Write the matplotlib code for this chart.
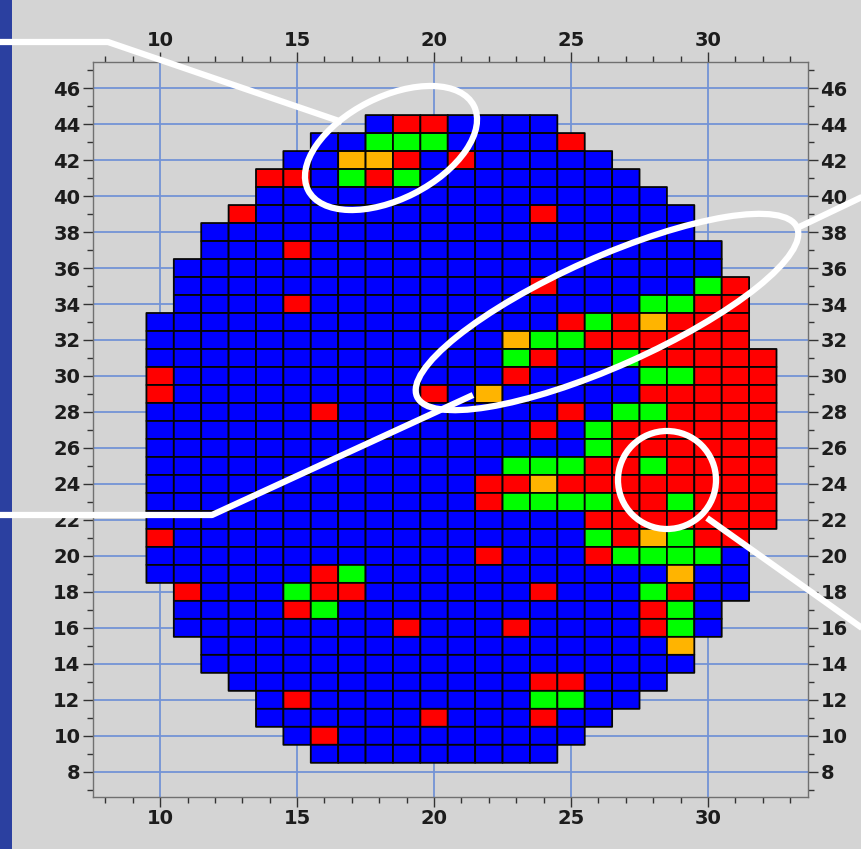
import numpy as np
import matplotlib
matplotlib.use("Agg")
import matplotlib.pyplot as plt
from matplotlib.colors import ListedColormap, BoundaryNorm
from matplotlib.patches import Ellipse, Circle, Rectangle
from matplotlib.ticker import MultipleLocator

# wafer rows (top to bottom) and first/last die column in each row
rows = list(range(44, 8, -1))
left_edge = [18, 16, 15, 14, 14, 13, 12, 12, 11, 11, 11, 10, 10, 10, 10, 10, 10, 10,
             10, 10, 10, 10, 10, 10, 10, 10, 11, 11, 11, 12, 12, 13, 14, 14, 15, 16, 18][:36]
right_edge = [24, 25, 26, 27, 28, 29, 29, 30, 30, 31, 31, 31, 31, 32, 32, 32, 32, 32,
              32, 32, 32, 32, 32, 31, 31, 31, 31, 30, 30, 29, 29, 28, 27, 26, 25, 24]

# failing dies: row -> columns
red_dies = {
    44: [19, 20], 43: [25], 42: [19, 21], 41: [14, 15, 18], 39: [13, 24], 37: [15],
    35: [24, 31], 34: [15, 30, 31], 33: [25, 27, 29, 30, 31],
    32: [26, 27, 28, 29, 30, 31], 31: [24, 28, 29, 30, 31, 32],
    30: [10, 23, 30, 31, 32], 29: [10, 20, 28, 29, 30, 31, 32],
    28: [16, 25, 29, 30, 31, 32], 27: [24, 27, 28, 29, 30, 31, 32],
    26: [27, 28, 29, 30, 31, 32], 25: [26, 27, 29, 30, 31, 32],
    24: [22, 23, 25, 26, 27, 28, 29, 30, 31, 32], 23: [22, 27, 28, 30, 31, 32],
    22: [26, 27, 28, 29, 30, 31, 32], 21: [10, 27, 30, 31], 20: [22, 26], 19: [16],
    18: [11, 16, 17, 24, 29], 17: [15, 28], 16: [19, 23, 28], 13: [24, 25], 12: [15],
    11: [20, 24], 10: [16],
}
green_dies = {
    43: [18, 19, 20], 41: [17, 19], 35: [30], 34: [28, 29], 33: [26], 32: [24, 25],
    31: [23, 27], 30: [28, 29], 28: [27, 28], 27: [26], 26: [26], 25: [23, 24, 25, 28],
    23: [23, 24, 25, 26, 29], 21: [26, 29], 20: [27, 28, 29, 30], 19: [17],
    18: [15, 28], 17: [16, 29], 16: [29], 12: [24, 25],
}
orange_dies = {42: [17, 18], 33: [28], 32: [23], 29: [22], 24: [24], 21: [28], 19: [29], 15: [29]}

cols = np.arange(10, 33)
grid = np.full((len(rows), len(cols)), np.nan)
for i, r in enumerate(rows):
    grid[i, left_edge[i] - 10:right_edge[i] - 9] = 0
    for code, d in ((1, red_dies), (2, green_dies), (3, orange_dies)):
        for c in d.get(r, []):
            grid[i, c - 10] = code
grid = np.ma.masked_invalid(grid)

cmap = ListedColormap(['#0000ff', '#ff0000', '#00ff00', '#ffb400'])
norm = BoundaryNorm([-0.5, 0.5, 1.5, 2.5, 3.5], 4)

bg = '#d4d4d4'
fig = plt.figure(figsize=(8.62, 8.49), dpi=100, facecolor=bg)
ax = fig.add_axes([93 / 862, 1 - 797 / 849, (808 - 93) / 862, (797 - 62) / 849])
ax.set_facecolor(bg)
ax.set_axisbelow(True)

xe = np.append(cols - 0.5, cols[-1] + 0.5)
ye = np.append(np.array(rows) + 0.5, rows[-1] - 0.5)
ax.pcolor(xe, ye, grid, cmap=cmap, norm=norm, edgecolors='#050505', linewidth=1.3)

ax.set_xlim(7.55, 33.65)
ax.set_ylim(6.6, 47.45)
ax.set_xticks(range(10, 31, 5))
ax.set_yticks(range(8, 47, 2))
ax.xaxis.set_minor_locator(MultipleLocator(1))
ax.yaxis.set_minor_locator(MultipleLocator(1))
ax.grid(True, which='major', color='#7393d6', lw=1.3)
ax.tick_params(which='both', direction='out', top=True, right=True,
               labeltop=True, labelright=True, color='#333333')
ax.tick_params(which='major', length=7, width=1, pad=2)
ax.tick_params(which='minor', length=4, width=1)
for lab in ax.get_xticklabels() + ax.get_yticklabels():
    lab.set_fontweight('bold')
    lab.set_fontsize(14)
    lab.set_color('#1c1c1c')
for lab in ax.xaxis.get_ticklabels(which='major'):
    pass
for s in ax.spines.values():
    s.set_color('#707070')
    s.set_linewidth(1)
# top/right labels also bold
ax.xaxis.set_tick_params(labelsize=14)
ax.yaxis.set_tick_params(labelsize=14)
for t in ax.xaxis.get_major_ticks() + ax.yaxis.get_major_ticks():
    t.label1.set_fontweight('bold')
    t.label2.set_fontweight('bold')
    t.label1.set_color('#1c1c1c')
    t.label2.set_color('#1c1c1c')

# slide overlay: callouts in pixel space
ov = fig.add_axes([0, 0, 1, 1], zorder=10)
ov.set_xlim(0, 862)
ov.set_ylim(849, 0)
ov.axis('off')
ov.patch.set_alpha(0)

ov.add_patch(Rectangle((0, 0), 12, 849, color='#2b40a0', lw=0))

lw = 4.5
ov.plot([0, 108, 342], [42, 42, 122], color='white', lw=lw, solid_capstyle='butt')
ov.plot([0, 212, 473], [515, 515, 395], color='white', lw=lw, solid_capstyle='butt')
ov.plot([707, 862], [518, 628], color='white', lw=lw, solid_capstyle='butt')
ov.plot([797, 862], [228, 197], color='white', lw=lw, solid_capstyle='butt')
ov.add_patch(Ellipse((391, 148), 186, 102, angle=-27, fill=False, ec='white', lw=lw))
ov.add_patch(Ellipse((607, 312), 416, 109, angle=-24, fill=False, ec='white', lw=lw))
ov.add_patch(Circle((667, 480), 49, fill=False, ec='white', lw=lw))

fig.savefig('out.png', dpi=100, facecolor=bg)
